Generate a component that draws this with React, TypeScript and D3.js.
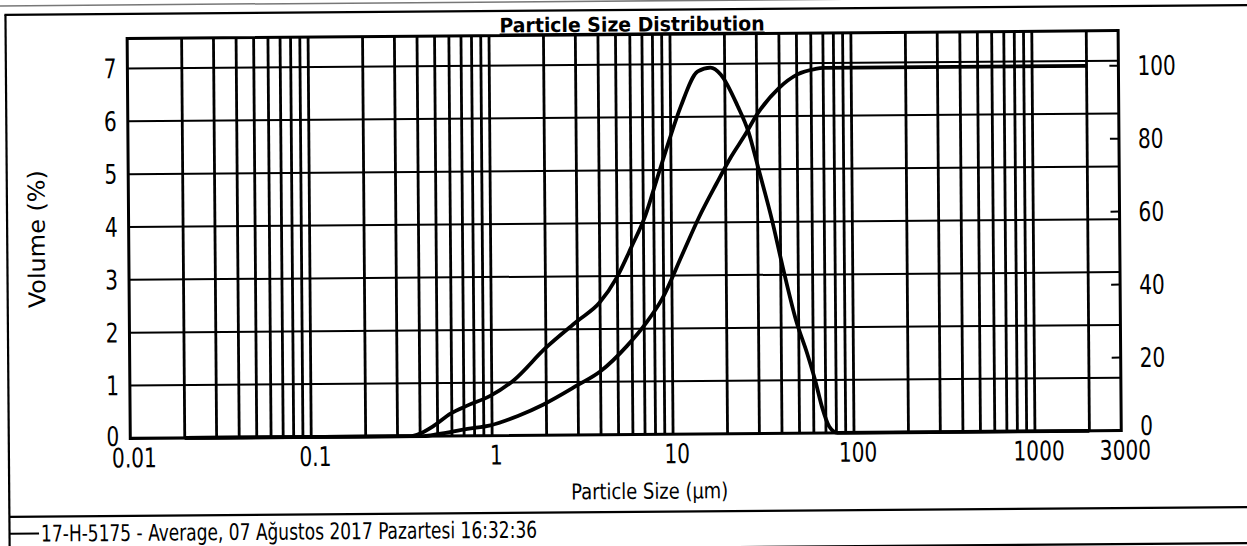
import React from 'react';
import * as d3 from 'd3';

// volume (%) curve
const freqSize = [0.02, 0.35, 0.4, 0.48, 0.59, 0.73, 0.98, 1.32, 1.98, 2.98, 3.98, 4.94, 6.0, 7.2, 8.3, 9.8, 11.4, 14.2, 16.7, 19.0, 23.5, 26.9, 30.5, 35.9, 41.1, 48.4, 55.6, 61.4, 66.9, 73, 81, 2000];
const freqVol = [0, 0, 0.05, 0.2, 0.42, 0.57, 0.75, 1.04, 1.64, 2.15, 2.5, 2.96, 3.55, 4.15, 4.8, 5.56, 6.2, 6.86, 6.93, 6.8, 6.2, 5.71, 5.0, 4.05, 3.14, 2.13, 1.5, 0.99, 0.48, 0.12, 0, 0];

// cumulative curve (right axis)
const cumSize = [0.02, 0.42, 0.5, 0.73, 0.98, 1.39, 1.93, 2.98, 3.98, 5.6, 7.2, 8.8, 11.4, 14.2, 17.8, 21.6, 25.5, 30.5, 39.8, 50.5, 62.9, 70, 2000];
const cumVol = [0, 0, 0.5, 1.9, 2.8, 5.3, 8.4, 13.6, 17.3, 24.2, 30.6, 37.0, 49.0, 59.3, 68.5, 76.0, 81.5, 87.9, 94.6, 98.3, 99.7, 100, 100];

const xTicks = [0.01, 0.1, 1, 10, 100, 1000, 3000];
const xTickLabels = ['0.01', '0.1', '1', '10', '100', '1000', '3000'];
const leftTicks = [0, 1, 2, 3, 4, 5, 6, 7];
const rightTicks = [0, 20, 40, 60, 80, 100];

const title = 'Particle Size Distribution';
const xTitle = 'Particle Size (µm)';
const yTitle = 'Volume (%)';
const legendLabel = '17-H-5175 - Average, 07 Ağustos 2017 Pazartesi 16:32:36';

const FONT = "'DejaVu Sans Condensed', 'DejaVu Sans', sans-serif";

// rough width of a numeric label in the scan
function numWidth(s: string) {
  let w = 0;
  for (const c of s) w += c === '.' ? 6.5 : 12.8;
  return w;
}

export default function App() {
  const W = 1247, H = 546;
  const left = 129, right = 1120, top = 34.5, bottom = 434.5;

  const x = d3.scaleLog().domain([0.01, 3000]).range([left, right]);
  const yL = d3.scaleLinear().domain([0, 7.57]).range([bottom, top]);
  const yR = d3.scaleLinear().domain([0, 109.6]).range([bottom, top]);

  // minor grid at every 1..9 x 10^k inside the frame
  const vGrid: number[] = [];
  for (let k = -2; k <= 3; k++) {
    for (let m = 1; m <= 9; m++) {
      const v = m * Math.pow(10, k);
      if (v > 0.0100001 && v < 2999) vGrid.push(v);
    }
  }

  const freqLine = d3.line<number>()
    .x((d, i) => x(freqSize[i]))
    .y((d) => yL(d))
    .curve(d3.curveMonotoneX);

  const cumLine = d3.line<number>()
    .x((d, i) => x(cumSize[i]))
    .y((d) => yR(d))
    .curve(d3.curveMonotoneX);

  return (
    <svg width={W} height={H} style={{ position: 'absolute', left: 0, top: 0, background: '#fff' }}>
      <rect x={0} y={0} width={W} height={H} fill="#fff" />
      {/* the scan is a little tilted */}
      <g transform="rotate(-0.45 623 273)">
        {/* page frame */}
        <line x1={0} x2={W + 20} y1={1} y2={1} stroke="#777" strokeWidth={1.5} />
        <line x1={6.5} x2={W + 20} y1={10} y2={10} stroke="#000" strokeWidth={2.2} />
        <line x1={7.5} x2={7.5} y1={10} y2={H + 20} stroke="#000" strokeWidth={2.2} />
        <line x1={7.5} x2={W + 20} y1={512} y2={512} stroke="#000" strokeWidth={2.2} />
        <line x1={7.5} x2={W + 20} y1={548} y2={548} stroke="#000" strokeWidth={2.2} />

        {/* grid */}
        <g className="grid">
          {vGrid.map((v, i) => (
            <line key={'v' + i} x1={x(v)} x2={x(v)} y1={top} y2={bottom} stroke="#000" strokeWidth={2.8} />
          ))}
          {leftTicks.slice(1).map((t) => (
            <line key={'h' + t} x1={left} x2={right} y1={yL(t)} y2={yL(t)} stroke="#000" strokeWidth={2} />
          ))}
        </g>

        {/* curves */}
        <path d={freqLine(freqVol) || ''} fill="none" stroke="#000" strokeWidth={3.8} strokeLinejoin="round" />
        <path d={cumLine(cumVol) || ''} fill="none" stroke="#000" strokeWidth={3.8} strokeLinejoin="round" />

        {/* plot frame */}
        <rect x={left} y={top} width={right - left} height={bottom - top} fill="none" stroke="#000" strokeWidth={3} />

        {/* right axis ticks point inward */}
        {rightTicks.map((t) => (
          <line key={'rt' + t} x1={right - 9} x2={right} y1={yR(t)} y2={yR(t)} stroke="#000" strokeWidth={2} />
        ))}

        <g fontFamily={FONT} fontSize={27} fill="#000">
          {xTicks.map((t, i) => (
            <text key={'xt' + t} x={x(t) + 4} y={bottom + 29} textAnchor="middle"
              textLength={numWidth(xTickLabels[i])} lengthAdjust="spacingAndGlyphs">
              {xTickLabels[i]}
            </text>
          ))}
          {leftTicks.map((t) => (
            <text key={'lt' + t} x={left - 11} y={yL(t) - (t === 0 ? 2 : 0)} textAnchor="end" dominantBaseline="central"
              textLength={numWidth(String(t))} lengthAdjust="spacingAndGlyphs">
              {t}
            </text>
          ))}
          {rightTicks.map((t) => (
            <text key={'rtl' + t} x={right + 19} y={yR(t) - (t === 0 ? 5 : 0)} textAnchor="start" dominantBaseline="central"
              textLength={numWidth(String(t))} lengthAdjust="spacingAndGlyphs">
              {t}
            </text>
          ))}
        </g>

        {/* titles */}
        <text x={634} y={31.5} textAnchor="middle" fontFamily={FONT} fontWeight="bold" fontSize={20}
          textDecoration="underline" textLength={265} lengthAdjust="spacingAndGlyphs">
          {title}
        </text>
        <text x={648} y={499} textAnchor="middle" fontFamily={FONT} fontSize={22}
          textLength={157} lengthAdjust="spacingAndGlyphs">
          {xTitle}
        </text>
        <text transform={`translate(45, ${(top + bottom) / 2}) rotate(-90)`} textAnchor="middle" fontFamily={FONT} fontSize={23}
          textLength={138} lengthAdjust="spacingAndGlyphs">
          {yTitle}
        </text>

        {/* legend */}
        <line x1={8} x2={37} y1={529} y2={529} stroke="#000" strokeWidth={2} />
        <text x={39} y={537} fontFamily={FONT} fontSize={23} textLength={496} lengthAdjust="spacingAndGlyphs">
          {legendLabel}
        </text>
      </g>
    </svg>
  );
}
